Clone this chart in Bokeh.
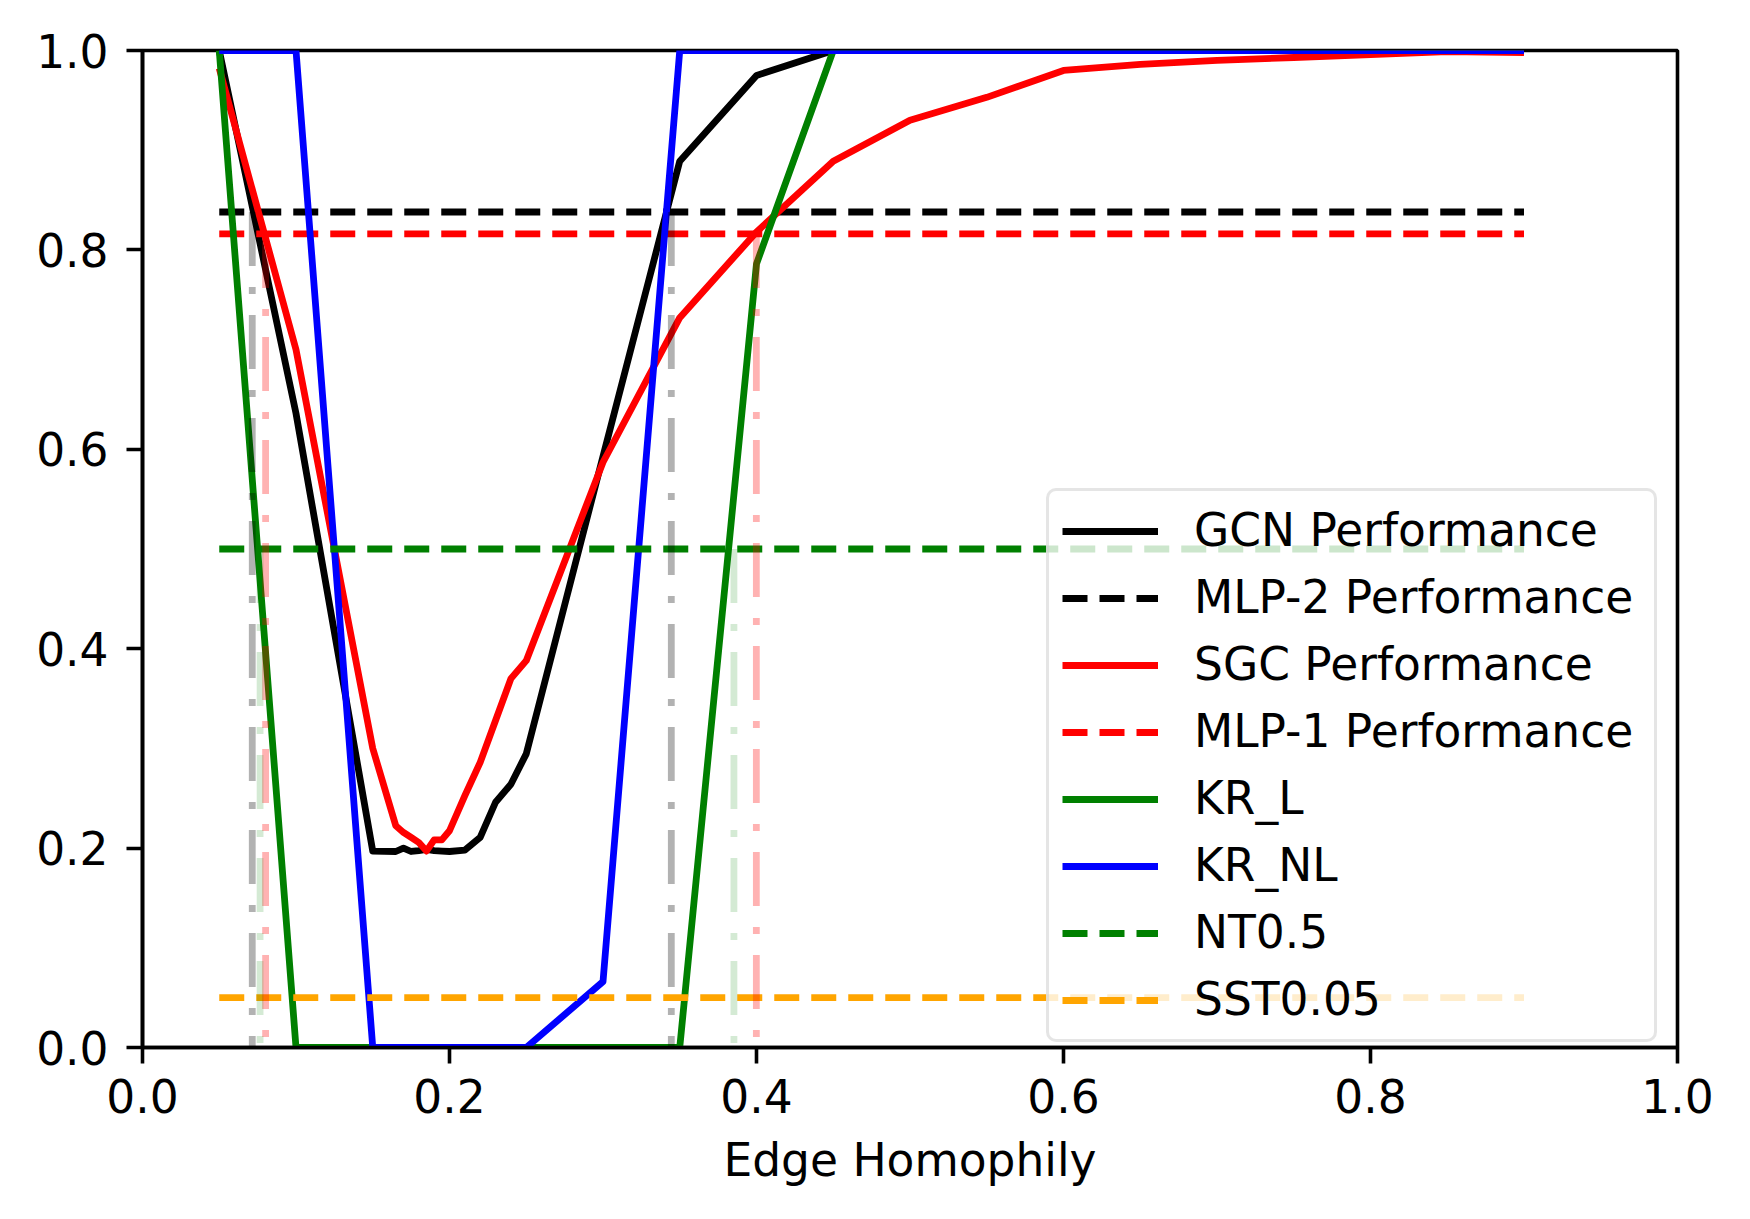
from bokeh.plotting import figure
from bokeh.models import Range1d, Legend, LegendItem, FixedTicker, PrintfTickFormatter
from bokeh.embed import file_html
from bokeh.resources import INLINE

# ---------------- data ----------------
homophily = [0.05, 0.10, 0.15, 0.165, 0.17, 0.175, 0.18, 0.185, 0.19, 0.195,
             0.20, 0.21, 0.22, 0.23, 0.24, 0.25, 0.30, 0.35, 0.40, 0.45,
             0.50, 0.55, 0.60, 0.65, 0.70, 0.75, 0.80, 0.85, 0.90]

gcn_perf = [1.0, 0.636, 0.197, 0.1966, 0.200, 0.1966, 0.1975, 0.1986, 0.1975, 0.197,
            0.1966, 0.198, 0.2107, 0.246, 0.264, 0.2945, 0.593, 0.889, 0.975, 1.0,
            1.0, 1.0, 1.0, 1.0, 1.0, 1.0, 1.0, 1.0, 1.0]

sgc_perf = [0.982, 0.700, 0.300, 0.2224, 0.2157, 0.2107, 0.2056, 0.197, 0.2083, 0.2083,
            0.2174, 0.2526, 0.286, 0.328, 0.370, 0.388, 0.587, 0.732, 0.818, 0.889,
            0.930, 0.953, 0.980, 0.986, 0.990, 0.993, 0.996, 0.999, 0.998]

kr_l = [1.0, 0.0, 0.0, 0.0, 0.0, 0.0, 0.0, 0.0, 0.0, 0.0,
        0.0, 0.0, 0.0, 0.0, 0.0, 0.0, 0.0, 0.0, 0.786, 1.0,
        1.0, 1.0, 1.0, 1.0, 1.0, 1.0, 1.0, 1.0, 1.0]

kr_nl = [1.0, 1.0, 0.0, 0.0, 0.0, 0.0, 0.0, 0.0, 0.0, 0.0,
         0.0, 0.0, 0.0, 0.0, 0.0, 0.0, 0.066, 1.0, 1.0, 1.0,
         1.0, 1.0, 1.0, 1.0, 1.0, 1.0, 1.0, 1.0, 1.0]

ref_span = [0.05, 0.90]
mlp2_level = 0.838
mlp1_level = 0.816
nt_level = 0.5
sst_level = 0.05

gcn_cross = [0.0715, 0.3445]
sgc_cross = [0.0802, 0.3999]
kr_cross = [0.0766, 0.3853]

x_ticks = [0.0, 0.2, 0.4, 0.6, 0.8, 1.0]
y_ticks = [0.0, 0.2, 0.4, 0.6, 0.8, 1.0]

# ---------------- style ----------------
FONT = "DejaVu Sans"
FS = "45.5px"
LW = 6.8
DASH = "25 12"
DASHDOT = "54 21 7 21"

p = figure(width=1742, height=1211,
           x_range=Range1d(0, 1), y_range=Range1d(0, 1),
           output_backend="svg", toolbar_location=None,
           min_border_left=142, min_border_right=65,
           min_border_top=50, min_border_bottom=164)

p.background_fill_color = "white"
p.border_fill_color = "white"
p.outline_line_color = "black"
p.outline_line_width = 3.6
p.grid.visible = False

for ax in (p.xaxis[0], p.yaxis[0]):
    ax.axis_line_width = 3.6
    ax.axis_line_color = "black"
    ax.major_tick_line_width = 3.6
    ax.major_tick_line_color = "black"
    ax.major_tick_out = 16
    ax.major_tick_in = 0
    ax.minor_tick_out = 0
    ax.minor_tick_in = 0
    ax.major_label_text_font = FONT
    ax.major_label_text_font_size = FS
    ax.major_label_text_color = "black"
    ax.formatter = PrintfTickFormatter(format="%.1f")

p.xaxis.ticker = FixedTicker(ticks=x_ticks)
p.yaxis.ticker = FixedTicker(ticks=y_ticks)
p.xaxis.major_label_standoff = 15
p.yaxis.major_label_standoff = 18

p.xaxis.axis_label = "Edge Homophily"
p.xaxis.axis_label_text_font = FONT
p.xaxis.axis_label_text_font_size = FS
p.xaxis.axis_label_text_font_style = "normal"
p.xaxis.axis_label_text_color = "black"
p.xaxis.axis_label_standoff = 18

# ---------------- glyphs ----------------
r_gcn = p.line(homophily, gcn_perf, line_color="black", line_width=LW, line_join="round")
r_mlp2 = p.line(ref_span, [mlp2_level] * 2, line_color="black", line_width=LW, line_dash=DASH)
r_sgc = p.line(homophily, sgc_perf, line_color="red", line_width=LW, line_join="round")
r_mlp1 = p.line(ref_span, [mlp1_level] * 2, line_color="red", line_width=LW, line_dash=DASH)
r_krl = p.line(homophily, kr_l, line_color="green", line_width=LW, line_join="round")
r_krnl = p.line(homophily, kr_nl, line_color="blue", line_width=LW, line_join="round")
r_nt = p.line(ref_span, [nt_level] * 2, line_color="green", line_width=LW, line_dash=DASH)
r_sst = p.line(ref_span, [sst_level] * 2, line_color="orange", line_width=LW, line_dash=DASH)

p.segment(x0=gcn_cross, y0=[mlp2_level] * len(gcn_cross), x1=gcn_cross, y1=[0.0] * len(gcn_cross),
          line_color="black", line_alpha=0.3, line_width=LW, line_dash=DASHDOT)
p.segment(x0=sgc_cross, y0=[mlp1_level] * len(sgc_cross), x1=sgc_cross, y1=[0.0] * len(sgc_cross),
          line_color="red", line_alpha=0.3, line_width=LW, line_dash=DASHDOT)
p.segment(x0=kr_cross, y0=[nt_level] * len(kr_cross), x1=kr_cross, y1=[0.0] * len(kr_cross),
          line_color="green", line_alpha=0.17, line_width=LW, line_dash=DASHDOT)

# ---------------- legend ----------------
legend = Legend(items=[
    LegendItem(label="GCN Performance", renderers=[r_gcn]),
    LegendItem(label="MLP-2 Performance", renderers=[r_mlp2]),
    LegendItem(label="SGC Performance", renderers=[r_sgc]),
    LegendItem(label="MLP-1 Performance", renderers=[r_mlp1]),
    LegendItem(label="KR_L", renderers=[r_krl]),
    LegendItem(label="KR_NL", renderers=[r_krnl]),
    LegendItem(label="NT0.5", renderers=[r_nt]),
    LegendItem(label="SST0.05", renderers=[r_sst]),
], location=(904, 5))
legend.margin = 0
legend.padding = 13
legend.spacing = 14
legend.glyph_width = 96
legend.glyph_height = 42
legend.label_height = 42
legend.label_width = 447
legend.label_standoff = 36
legend.label_text_font = FONT
legend.label_text_font_size = FS
legend.label_text_color = "black"
legend.border_line_color = "#cccccc"
legend.border_line_width = 3.6
legend.background_fill_color = "white"
legend.background_fill_alpha = 0.8
try:
    legend.border_radius = 10
except Exception:
    pass
p.add_layout(legend)

open("out.html", "w").write(file_html(p, INLINE))
